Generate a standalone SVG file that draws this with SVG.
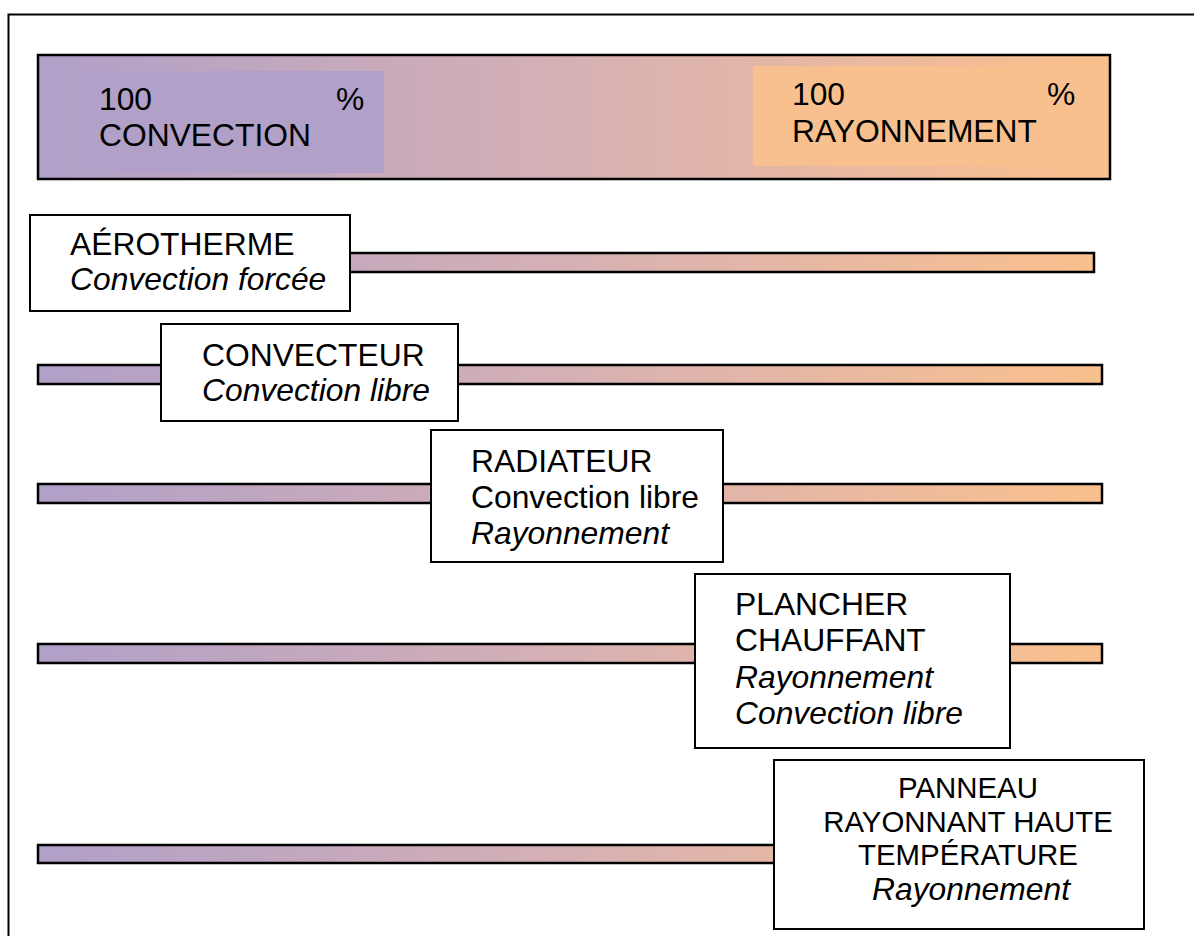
<svg xmlns="http://www.w3.org/2000/svg" width="1194" height="936" viewBox="0 0 1194 936">
<defs>
<linearGradient id="g" gradientUnits="userSpaceOnUse" x1="60" y1="0" x2="1080" y2="0">
<stop offset="0" stop-color="#b1a0c7"/>
<stop offset="0.5" stop-color="#d6b0b4"/>
<stop offset="1" stop-color="#f9c08f"/>
</linearGradient>
<style>
.t{font-family:"Liberation Sans",Arial,sans-serif;font-size:31.8px;fill:#000}
.i{font-style:italic}
.s{font-size:29.4px}
.bar{fill:url(#g);stroke:#000;stroke-width:2.5}
.box{fill:#fff;stroke:#000;stroke-width:2}
</style>
</defs>
<rect width="1194" height="936" fill="#fff"/>
<path d="M8.5,960 V14.5 H1200" fill="none" stroke="#000" stroke-width="2"/>

<g id="scale">
<rect class="bar" x="38" y="55" width="1072" height="124"/>
<rect x="78" y="71" width="306" height="102" fill="#b1a0c7"/>
<rect x="753" y="66" width="345" height="100" fill="#f9c08f"/>
<text class="t" x="99" y="110">100</text>
<text class="t" x="336" y="110">%</text>
<text class="t" x="99" y="146">CONVECTION</text>
<text class="t" x="792" y="105">100</text>
<text class="t" x="1047" y="105">%</text>
<text class="t" x="792" y="142">RAYONNEMENT</text>
</g>

<g id="connectors">
<rect class="bar" x="340" y="253" width="754" height="19"/>
<rect class="bar" x="38" y="365" width="1064" height="19"/>
<rect class="bar" x="38" y="484" width="1064" height="19"/>
<rect class="bar" x="38" y="644" width="1064" height="19"/>
<rect class="bar" x="38" y="845" width="740" height="18"/>
</g>

<g id="aerotherme">
<rect class="box" x="30" y="215" width="320" height="96"/>
<text class="t" x="70" y="255">AÉROTHERME</text>
<text class="t i" x="70" y="290">Convection forcée</text>
</g>

<g id="convecteur">
<rect class="box" x="161" y="324" width="297" height="97"/>
<text class="t" x="202" y="366">CONVECTEUR</text>
<text class="t i" x="202" y="401">Convection libre</text>
</g>

<g id="radiateur">
<rect class="box" x="431" y="430" width="292" height="132"/>
<text class="t" x="471" y="472">RADIATEUR</text>
<text class="t" x="471" y="508">Convection libre</text>
<text class="t i" x="471" y="544">Rayonnement</text>
</g>

<g id="plancher">
<rect class="box" x="695" y="574" width="315" height="174"/>
<text class="t" x="735" y="615">PLANCHER</text>
<text class="t" x="735" y="651">CHAUFFANT</text>
<text class="t i" x="735" y="688">Rayonnement</text>
<text class="t i" x="735" y="724">Convection libre</text>
</g>

<g id="panneau">
<rect class="box" x="774" y="760" width="370" height="169"/>
<text class="t s" x="968" y="798" text-anchor="middle">PANNEAU</text>
<text class="t s" x="968" y="832" text-anchor="middle">RAYONNANT HAUTE</text>
<text class="t s" x="968" y="865" text-anchor="middle">TEMPÉRATURE</text>
<text class="t i" x="971" y="900" text-anchor="middle">Rayonnement</text>
</g>
</svg>
